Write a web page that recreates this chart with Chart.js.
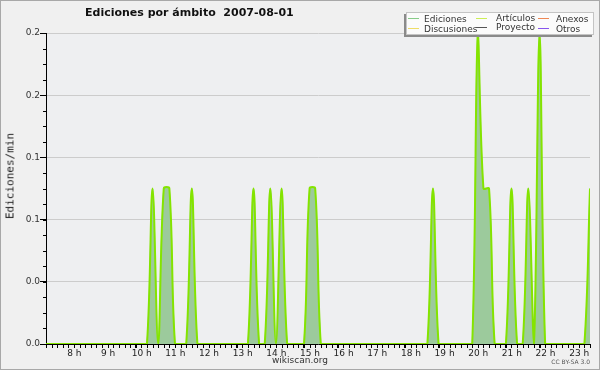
<!DOCTYPE html>
<html>
<head>
<meta charset="utf-8">
<script src="https://cdn.jsdelivr.net/npm/chart.js@4.4.0/dist/chart.umd.min.js"></script>
<style>
  body { margin: 0; background: #f0f0f0; }
  #wrap { position: relative; width: 600px; height: 370px; background: #f0f0f0; font-family: "DejaVu Sans", sans-serif; overflow: hidden; }
  #frame { position: absolute; left: 0; top: 0; width: 598px; height: 368px; border: 1px solid #a8a8a8; pointer-events: none; }
  .txt { position: absolute; white-space: nowrap; }
  #title { left: 85px; top: 6px; font-size: 11px; font-weight: bold; color: #111; }
  #ytitle { left: 10px; top: 176px; font-family: "DejaVu Sans Mono", monospace; font-size: 11px; color: #222;
            transform: translate(-50%, -50%) rotate(-90deg); }
  #site { left: 300px; top: 355px; font-size: 9px; color: #333; transform: translateX(-50%); }
  #lic { right: 10px; top: 358px; font-size: 6px; color: #555; }
  #legend { position: absolute; left: 406px; top: 12px; width: 186px; height: 21px; background: #fbfbfb;
            border: 1px solid #c4c4c4; box-shadow: -2px 2px 0 #8a8a8a; }
  .lg { position: absolute; font-size: 9px; color: #333; line-height: 10px; }
</style>
</head>
<body>
<div id="wrap">
  <canvas id="chart" width="600" height="370"></canvas>
  <div id="title" class="txt">Ediciones por ámbito&nbsp;&nbsp;2007-08-01</div>
  <div id="ytitle" class="txt">Ediciones/min</div>
  <div id="site" class="txt">wikiscan.org</div>
  <div id="lic" class="txt">CC BY-SA 3.0</div>
  <div id="legend"></div>
  <div id="frame"></div>
</div>
<script>
// 10-minute bins, 2007-08-01
const times = [
  "07:20", "07:30", "07:40", "07:50",
  "08:00", "08:10", "08:20", "08:30", "08:40", "08:50",
  "09:00", "09:10", "09:20", "09:30", "09:40", "09:50",
  "10:00", "10:10", "10:20", "10:30", "10:40", "10:50",
  "11:00", "11:10", "11:20", "11:30", "11:40", "11:50",
  "12:00", "12:10", "12:20", "12:30", "12:40", "12:50",
  "13:00", "13:10", "13:20", "13:30", "13:40", "13:50",
  "14:00", "14:10", "14:20", "14:30", "14:40", "14:50",
  "15:00", "15:10", "15:20", "15:30", "15:40", "15:50",
  "16:00", "16:10", "16:20", "16:30", "16:40", "16:50",
  "17:00", "17:10", "17:20", "17:30", "17:40", "17:50",
  "18:00", "18:10", "18:20", "18:30", "18:40", "18:50",
  "19:00", "19:10", "19:20", "19:30", "19:40", "19:50",
  "20:00", "20:10", "20:20", "20:30", "20:40", "20:50",
  "21:00", "21:10", "21:20", "21:30", "21:40", "21:50",
  "22:00", "22:10", "22:20", "22:30", "22:40", "22:50",
  "23:00", "23:10", "23:20", "23:30",
];

const ediciones = [
  0, 0, 0, 0,
  0, 0, 0, 0, 0, 0,
  0, 0, 0, 0, 0, 0,
  0, 0, 0, 0.1, 0, 0.1,
  0.1, 0, 0, 0, 0.1, 0,
  0, 0, 0, 0, 0, 0,
  0, 0, 0, 0.1, 0, 0,
  0.1, 0, 0.1, 0, 0, 0,
  0, 0.1, 0.1, 0, 0, 0,
  0, 0, 0, 0, 0, 0,
  0, 0, 0, 0, 0, 0,
  0, 0, 0, 0, 0, 0.1,
  0, 0, 0, 0, 0, 0,
  0, 0.2, 0.1, 0.1, 0, 0,
  0, 0.1, 0, 0, 0.1, 0,
  0.2, 0, 0, 0, 0, 0,
  0, 0, 0, 0.1,
];

const articulos = [
  0, 0, 0, 0,
  0, 0, 0, 0, 0, 0,
  0, 0, 0, 0, 0, 0,
  0, 0, 0, 0.1, 0, 0.1,
  0.1, 0, 0, 0, 0.1, 0,
  0, 0, 0, 0, 0, 0,
  0, 0, 0, 0.1, 0, 0,
  0.1, 0, 0.1, 0, 0, 0,
  0, 0.1, 0.1, 0, 0, 0,
  0, 0, 0, 0, 0, 0,
  0, 0, 0, 0, 0, 0,
  0, 0, 0, 0, 0, 0.1,
  0, 0, 0, 0, 0, 0,
  0, 0.2, 0.1, 0.1, 0, 0,
  0, 0.1, 0, 0, 0.1, 0,
  0.2, 0, 0, 0, 0, 0,
  0, 0, 0, 0.1,
];

const hourTicks = [8, 9, 10, 11, 12, 13, 14, 15, 16, 17, 18, 19, 20, 21, 22, 23];
const yTicks = [0, 0.04, 0.08, 0.12, 0.16, 0.2];

const legendLabels = ["Ediciones", "Artículos", "Anexos", "Discusiones", "Proyecto", "Otros"];
const legendColors = ["#88cc88", "#ccee55", "#ee8855", "#eedd66", "#555555", "#8855ee"];

function toHours(t) {
  const p = t.split(":");
  return +p[0] + +p[1] / 60;
}

// legend box (3 columns x 2 rows): line x, line y, text x, text y
const legendPos = [
  [1, 5, 17, 1], [69, 5, 89, 0], [131, 5, 149, 1],
  [1, 15, 17, 11], [69, 14, 89, 9], [131, 15, 149, 11],
];
const legendEl = document.getElementById("legend");
legendLabels.forEach((name, i) => {
  const [lx, ly, tx, ty] = legendPos[i];
  const line = document.createElement("i");
  line.style.cssText = `position:absolute;left:${lx}px;top:${ly}px;width:11px;height:1px;background:${legendColors[i]}`;
  legendEl.appendChild(line);
  const t = document.createElement("div");
  t.className = "lg";
  t.textContent = name;
  t.style.left = tx + "px";
  t.style.top = ty + "px";
  legendEl.appendChild(t);
});

const plotBg = {
  id: "plotBg",
  beforeDraw(chart) {
    const { ctx, chartArea: a } = chart;
    ctx.save();
    ctx.fillStyle = "#eeeff1";
    ctx.fillRect(a.left, a.top, a.right - a.left, a.bottom - a.top);
    ctx.restore();
  },
};

// small ticks: every 10 min on x, every 0.01 on y
const minorTicks = {
  id: "minorTicks",
  afterDraw(chart) {
    const { ctx, chartArea: a, scales } = chart;
    ctx.save();
    ctx.strokeStyle = "#000";
    ctx.lineWidth = 1;
    ctx.beginPath();
    times.forEach((t) => {
      const x = Math.round(scales.x.getPixelForValue(toHours(t))) + 0.5;
      ctx.moveTo(x, a.bottom);
      ctx.lineTo(x, a.bottom + 4);
    });
    for (let v = 0; v <= 0.2001; v += 0.01) {
      const y = Math.round(scales.y.getPixelForValue(v)) + 0.5;
      ctx.moveTo(a.left - 3, y);
      ctx.lineTo(a.left, y);
    }
    ctx.stroke();
    ctx.restore();
  },
};

const ctx = document.getElementById("chart").getContext("2d");

new Chart(ctx, {
  type: "line",
  data: {
    datasets: [
      {
        label: "Artículos",
        data: times.map((t, i) => ({ x: toHours(t), y: articulos[i] })),
        borderColor: "#84e400",
        borderWidth: 2,
        fill: false,
        pointRadius: 0,
        tension: 0.35,
        order: 0,
      },
      {
        label: "Ediciones",
        data: times.map((t, i) => ({ x: toHours(t), y: ediciones[i] })),
        borderColor: "#9cca9c",
        backgroundColor: "#9cca9c",
        borderWidth: 1,
        fill: "origin",
        pointRadius: 0,
        tension: 0.35,
        order: 1,
      },
    ],
  },
  options: {
    responsive: false,
    animation: false,
    devicePixelRatio: 1,
    layout: { padding: { left: 0, top: 33, right: 10, bottom: 0 } },
    plugins: {
      legend: { display: false },
      title: { display: false },
      tooltip: { enabled: false },
    },
    scales: {
      x: {
        type: "linear",
        min: toHours(times[0]),
        max: toHours(times[times.length - 1]),
        afterBuildTicks: (axis) => {
          axis.ticks = hourTicks.map((v) => ({ value: v }));
        },
        afterFit: (axis) => {
          axis.height = 26;
        },
        ticks: {
          autoSkip: false,
          maxRotation: 0,
          labelOffset: 6,
          padding: 0,
          color: "#222",
          font: { family: "DejaVu Sans", size: 9 },
          callback: (v) => v + " h",
        },
        grid: { drawOnChartArea: false, tickLength: 4, tickColor: "#000" },
        border: { color: "#000", width: 1 },
      },
      y: {
        min: 0,
        max: 0.2,
        afterBuildTicks: (axis) => {
          axis.ticks = yTicks.map((v) => ({ value: v }));
        },
        afterFit: (axis) => {
          axis.width = 46;
        },
        ticks: {
          padding: 0,
          color: "#333",
          font: { family: "DejaVu Sans", size: 9 },
          callback: (v) => v.toFixed(1),
        },
        grid: { color: "#cccccc", tickLength: 6, tickColor: "#000" },
        border: { color: "#000", width: 1 },
      },
    },
  },
  plugins: [plotBg, minorTicks],
});
</script>
</body>
</html>
